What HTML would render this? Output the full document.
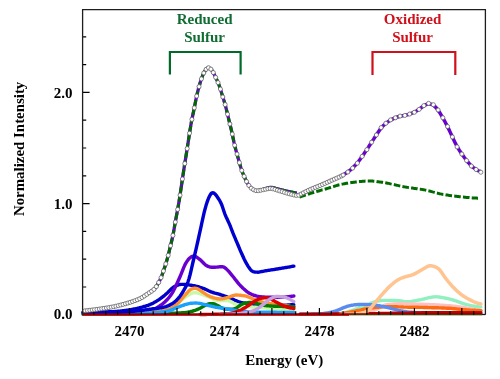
<!DOCTYPE html>
<html><head><meta charset="utf-8"><style>
html,body{margin:0;padding:0;background:#fff;}
body{width:500px;height:379px;overflow:hidden;}
svg{display:block;will-change:transform;}
text{font-family:"Liberation Serif",serif;font-weight:bold;}
</style></head><body>
<svg width="500" height="379" viewBox="0 0 500 379">
<rect width="500" height="379" fill="#fff"/>
<g fill="none" stroke-linecap="round" stroke-linejoin="round">
<path d="M320.0,314.2 L321.0,314.2 L322.0,314.2 L323.0,314.2 L324.0,314.2 L325.0,314.2 L326.0,314.2 L327.0,314.1 L328.0,314.1 L329.0,314.1 L330.0,314.1 L331.0,314.1 L332.0,314.1 L333.0,314.0 L334.0,314.0 L335.0,314.0 L336.0,313.9 L337.0,313.9 L338.0,313.9 L339.0,313.8 L340.0,313.8 L341.0,313.7 L342.0,313.5 L343.0,313.3 L344.0,313.1 L345.0,312.8 L346.0,312.5 L347.0,312.2 L348.0,311.9 L349.0,311.5 L350.0,311.2 L351.0,310.8 L352.0,310.5 L353.0,310.2 L354.0,309.8 L355.0,309.4 L356.0,309.0 L357.0,308.7 L358.0,308.3 L359.0,307.9 L360.0,307.5 L361.0,307.1 L362.0,306.8 L363.0,306.4 L364.0,306.0 L365.0,305.6 L366.0,305.3 L367.0,304.9 L368.0,304.5 L369.0,304.1 L370.0,303.6 L371.0,303.2 L372.0,302.8 L373.0,302.5 L374.0,302.1 L375.0,301.8 L376.0,301.5 L377.0,301.2 L378.0,301.0 L379.0,300.8 L380.0,300.6 L381.0,300.5 L382.0,300.4 L383.0,300.4 L384.0,300.4 L385.0,300.4 L386.0,300.4 L387.0,300.4 L388.0,300.4 L389.0,300.4 L390.0,300.4 L391.0,300.4 L392.0,300.4 L393.0,300.5 L394.0,300.5 L395.0,300.5 L396.0,300.6 L397.0,300.7 L398.0,300.7 L399.0,300.8 L400.0,300.9 L401.0,301.0 L402.0,301.2 L403.0,301.3 L404.0,301.5 L405.0,301.6 L406.0,301.7 L407.0,301.7 L408.0,301.7 L409.0,301.7 L410.0,301.6 L411.0,301.5 L412.0,301.3 L413.0,301.2 L414.0,301.0 L415.0,300.8 L416.0,300.6 L417.0,300.4 L418.0,300.2 L419.0,300.0 L420.0,299.9 L421.0,299.7 L422.0,299.4 L423.0,299.2 L424.0,299.0 L425.0,298.7 L426.0,298.4 L427.0,298.2 L428.0,297.9 L429.0,297.7 L430.0,297.5 L431.0,297.3 L432.0,297.1 L433.0,297.0 L434.0,296.9 L435.0,296.9 L436.0,296.8 L437.0,296.9 L438.0,296.9 L439.0,297.0 L440.0,297.2 L441.0,297.3 L442.0,297.5 L443.0,297.6 L444.0,297.8 L445.0,298.0 L446.0,298.3 L447.0,298.5 L448.0,298.7 L449.0,298.9 L450.0,299.2 L451.0,299.4 L452.0,299.7 L453.0,300.0 L454.0,300.3 L455.0,300.6 L456.0,300.9 L457.0,301.3 L458.0,301.7 L459.0,302.1 L460.0,302.4 L461.0,302.8 L462.0,303.2 L463.0,303.5 L464.0,303.8 L465.0,304.1 L466.0,304.4 L467.0,304.7 L468.0,304.9 L469.0,305.1 L470.0,305.4 L471.0,305.6 L472.0,305.8 L473.0,306.0 L474.0,306.2 L475.0,306.3 L476.0,306.5 L477.0,306.7 L478.0,306.8 L479.0,306.9 L480.0,307.1 L480.9,307.1" stroke="#90f0c0" stroke-width="3.4" />
<path d="M350.0,314.2 L351.0,314.2 L352.0,314.2 L353.0,314.1 L354.0,314.1 L355.0,314.0 L356.0,314.0 L357.0,313.9 L358.0,313.8 L359.0,313.7 L360.0,313.6 L361.0,313.5 L362.0,313.4 L363.0,313.2 L364.0,313.1 L365.0,313.0 L366.0,312.8 L367.0,312.6 L368.0,312.3 L369.0,312.1 L370.0,311.8 L371.0,311.4 L372.0,311.1 L373.0,310.7 L374.0,310.4 L375.0,310.0 L376.0,309.5 L377.0,309.1 L378.0,308.6 L379.0,308.0 L380.0,307.5 L381.0,307.0 L382.0,306.4 L383.0,305.9 L384.0,305.5 L385.0,305.2 L386.0,304.9 L387.0,304.7 L388.0,304.5 L389.0,304.4 L390.0,304.3 L391.0,304.2 L392.0,304.1 L393.0,304.1 L394.0,304.0 L395.0,303.9 L396.0,303.9 L397.0,303.9 L398.0,303.8 L399.0,303.8 L400.0,303.8 L401.0,303.8 L402.0,303.8 L403.0,303.8 L404.0,303.8 L405.0,303.8 L406.0,303.9 L407.0,303.9 L408.0,303.9 L409.0,303.9 L410.0,303.9 L411.0,304.0 L412.0,304.0 L413.0,304.0 L414.0,304.0 L415.0,304.1 L416.0,304.1 L417.0,304.1 L418.0,304.2 L419.0,304.2 L420.0,304.2 L421.0,304.3 L422.0,304.3 L423.0,304.3 L424.0,304.4 L425.0,304.4 L426.0,304.4 L427.0,304.5 L428.0,304.5 L429.0,304.5 L430.0,304.6 L431.0,304.6 L432.0,304.7 L433.0,304.7 L434.0,304.8 L435.0,304.8 L436.0,304.9 L437.0,304.9 L438.0,305.0 L439.0,305.0 L440.0,305.1 L441.0,305.2 L442.0,305.2 L443.0,305.3 L444.0,305.4 L445.0,305.4 L446.0,305.5 L447.0,305.6 L448.0,305.7 L449.0,305.7 L450.0,305.8 L451.0,305.9 L452.0,306.0 L453.0,306.1 L454.0,306.2 L455.0,306.3 L456.0,306.4 L457.0,306.5 L458.0,306.7 L459.0,306.8 L460.0,306.9 L461.0,307.1 L462.0,307.2 L463.0,307.4 L464.0,307.6 L465.0,307.7 L466.0,307.9 L467.0,308.1 L468.0,308.3 L469.0,308.5 L470.0,308.7 L471.0,308.8 L472.0,309.0 L473.0,309.3 L474.0,309.5 L475.0,309.7 L476.0,309.9 L477.0,310.1 L478.0,310.3 L479.0,310.5 L480.0,310.7 L481.0,310.9" stroke="#ffc0c0" stroke-width="3.4" />
<path d="M320.0,314.2 L321.0,314.2 L322.0,314.2 L323.0,314.2 L324.0,314.2 L325.0,314.2 L326.0,314.1 L327.0,314.1 L328.0,314.1 L329.0,314.1 L330.0,314.0 L331.0,314.0 L332.0,314.0 L333.0,313.9 L334.0,313.9 L335.0,313.8 L336.0,313.8 L337.0,313.7 L338.0,313.7 L339.0,313.6 L340.0,313.6 L341.0,313.5 L342.0,313.4 L343.0,313.3 L344.0,313.2 L345.0,313.0 L346.0,312.8 L347.0,312.7 L348.0,312.5 L349.0,312.3 L350.0,312.1 L351.0,311.9 L352.0,311.7 L353.0,311.5 L354.0,311.3 L355.0,311.1 L356.0,310.9 L357.0,310.7 L358.0,310.5 L359.0,310.3 L360.0,310.1 L361.0,309.9 L362.0,309.6 L363.0,309.4 L364.0,309.2 L365.0,309.0 L366.0,308.9 L367.0,308.7 L368.0,308.5 L369.0,308.4 L370.0,308.2 L371.0,308.1 L372.0,307.9 L373.0,307.8 L374.0,307.7 L375.0,307.5 L376.0,307.4 L377.0,307.3 L378.0,307.2 L379.0,307.1 L380.0,307.0 L381.0,307.0 L382.0,306.9 L383.0,306.8 L384.0,306.8 L385.0,306.7 L386.0,306.7 L387.0,306.7 L388.0,306.6 L389.0,306.6 L390.0,306.6 L391.0,306.6 L392.0,306.6 L393.0,306.7 L394.0,306.7 L395.0,306.7 L396.0,306.8 L397.0,306.8 L398.0,306.9 L399.0,306.9 L400.0,306.9 L401.0,307.0 L402.0,307.0 L403.0,307.0 L404.0,307.1 L405.0,307.1 L406.0,307.1 L407.0,307.1 L408.0,307.2 L409.0,307.2 L410.0,307.2 L411.0,307.2 L412.0,307.2 L413.0,307.2 L414.0,307.3 L415.0,307.3 L416.0,307.3 L417.0,307.3 L418.0,307.3 L419.0,307.4 L420.0,307.4 L421.0,307.4 L422.0,307.4 L423.0,307.4 L424.0,307.5 L425.0,307.5 L426.0,307.5 L427.0,307.5 L428.0,307.6 L429.0,307.6 L430.0,307.6 L431.0,307.6 L432.0,307.7 L433.0,307.7 L434.0,307.7 L435.0,307.7 L436.0,307.8 L437.0,307.8 L438.0,307.8 L439.0,307.9 L440.0,307.9 L441.0,307.9 L442.0,308.0 L443.0,308.0 L444.0,308.0 L445.0,308.1 L446.0,308.1 L447.0,308.2 L448.0,308.2 L449.0,308.3 L450.0,308.3 L451.0,308.4 L452.0,308.5 L453.0,308.6 L454.0,308.7 L455.0,308.8 L456.0,308.9 L457.0,309.0 L458.0,309.1 L459.0,309.2 L460.0,309.3 L461.0,309.4 L462.0,309.5 L463.0,309.6 L464.0,309.6 L465.0,309.7 L466.0,309.8 L467.0,309.9 L468.0,309.9 L469.0,310.0 L470.0,310.1 L471.0,310.1 L472.0,310.2 L473.0,310.2 L474.0,310.3 L475.0,310.3 L476.0,310.4 L477.0,310.4 L478.0,310.5 L479.0,310.5 L480.0,310.6 L481.0,310.6" stroke="#ff6a10" stroke-width="3.4" />
<path d="M300.0,314.2 L301.0,314.2 L302.0,314.2 L303.0,314.2 L304.0,314.2 L305.0,314.2 L306.0,314.2 L307.0,314.1 L308.0,314.1 L309.0,314.1 L310.0,314.1 L311.0,314.1 L312.0,314.0 L313.0,314.0 L314.0,314.0 L315.0,314.0 L316.0,313.9 L317.0,313.9 L318.0,313.9 L319.0,313.8 L320.0,313.8 L321.0,313.7 L322.0,313.7 L323.0,313.6 L324.0,313.4 L325.0,313.3 L326.0,313.2 L327.0,313.0 L328.0,312.8 L329.0,312.6 L330.0,312.4 L331.0,312.2 L332.0,311.9 L333.0,311.7 L334.0,311.4 L335.0,311.2 L336.0,310.8 L337.0,310.5 L338.0,310.1 L339.0,309.7 L340.0,309.2 L341.0,308.8 L342.0,308.3 L343.0,307.9 L344.0,307.5 L345.0,307.2 L346.0,306.8 L347.0,306.4 L348.0,306.1 L349.0,305.8 L350.0,305.6 L351.0,305.4 L352.0,305.2 L353.0,305.1 L354.0,304.9 L355.0,304.8 L356.0,304.7 L357.0,304.6 L358.0,304.5 L359.0,304.5 L360.0,304.4 L361.0,304.4 L362.0,304.4 L363.0,304.4 L364.0,304.4 L365.0,304.5 L366.0,304.5 L367.0,304.5 L368.0,304.6 L369.0,304.6 L370.0,304.6 L371.0,304.7 L372.0,304.8 L373.0,304.8 L374.0,305.0 L375.0,305.1 L376.0,305.2 L377.0,305.4 L378.0,305.6 L379.0,305.7 L380.0,305.9 L381.0,306.1 L382.0,306.3 L383.0,306.5 L384.0,306.7 L385.0,306.9 L386.0,307.2 L387.0,307.4 L388.0,307.6 L389.0,307.9 L390.0,308.1 L391.0,308.4 L392.0,308.6 L393.0,308.9 L394.0,309.1 L395.0,309.4 L396.0,309.7 L397.0,309.9 L398.0,310.1 L399.0,310.4 L400.0,310.6 L401.0,310.8 L402.0,311.0 L403.0,311.2 L404.0,311.4 L405.0,311.5 L406.0,311.7 L407.0,311.9 L408.0,312.0 L409.0,312.1 L410.0,312.2 L411.0,312.3 L412.0,312.3 L413.0,312.4 L414.0,312.5 L415.0,312.5 L416.0,312.6 L417.0,312.6 L418.0,312.7 L419.0,312.7 L420.0,312.8 L421.0,312.8 L422.0,312.9 L423.0,312.9 L424.0,313.0 L425.0,313.0 L426.0,313.0 L427.0,313.1 L428.0,313.1 L429.0,313.1 L430.0,313.2 L431.0,313.2 L432.0,313.2 L433.0,313.3 L434.0,313.3 L435.0,313.3 L436.0,313.3 L437.0,313.3 L438.0,313.4 L439.0,313.4 L440.0,313.4 L441.0,313.4 L442.0,313.4 L443.0,313.4 L444.0,313.5 L445.0,313.5 L446.0,313.5 L447.0,313.5 L448.0,313.5 L449.0,313.5 L450.0,313.6 L451.0,313.6 L452.0,313.6 L453.0,313.6 L454.0,313.6 L455.0,313.6 L456.0,313.6 L457.0,313.6 L458.0,313.7 L459.0,313.7 L460.0,313.7 L461.0,313.7 L462.0,313.7 L463.0,313.7 L464.0,313.7 L465.0,313.7 L466.0,313.7 L467.0,313.7 L468.0,313.7 L469.0,313.8 L470.0,313.8 L471.0,313.8 L472.0,313.8 L473.0,313.8 L474.0,313.8 L475.0,313.8 L476.0,313.8 L477.0,313.8 L478.0,313.8 L479.0,313.8 L480.0,313.8 L481.0,313.8" stroke="#5a8cf0" stroke-width="3.4" />
<path d="M380.0,314.0 L381.0,313.9 L382.0,313.9 L383.0,313.8 L384.0,313.8 L385.0,313.7 L386.0,313.6 L387.0,313.6 L388.0,313.5 L389.0,313.5 L390.0,313.4 L391.0,313.4 L392.0,313.3 L393.0,313.3 L394.0,313.2 L395.0,313.2 L396.0,313.2 L397.0,313.1 L398.0,313.1 L399.0,313.1 L400.0,313.0 L401.0,313.0 L402.0,313.0 L403.0,313.0 L404.0,313.0 L405.0,312.9 L406.0,312.9 L407.0,312.9 L408.0,312.9 L409.0,312.9 L410.0,312.9 L411.0,312.9 L412.0,312.8 L413.0,312.8 L414.0,312.8 L415.0,312.8 L416.0,312.8 L417.0,312.8 L418.0,312.8 L419.0,312.8 L420.0,312.8 L421.0,312.8 L422.0,312.8 L423.0,312.7 L424.0,312.7 L425.0,312.7 L426.0,312.7 L427.0,312.7 L428.0,312.7 L429.0,312.7 L430.0,312.7 L431.0,312.7 L432.0,312.7 L433.0,312.7 L434.0,312.7 L435.0,312.6 L436.0,312.6 L437.0,312.6 L438.0,312.6 L439.0,312.6 L440.0,312.6 L441.0,312.6 L442.0,312.6 L443.0,312.6 L444.0,312.6 L445.0,312.5 L446.0,312.5 L447.0,312.5 L448.0,312.5 L449.0,312.5 L450.0,312.5 L451.0,312.5 L452.0,312.5 L453.0,312.5 L454.0,312.5 L455.0,312.5 L456.0,312.4 L457.0,312.4 L458.0,312.4 L459.0,312.4 L460.0,312.4 L461.0,312.4 L462.0,312.4 L463.0,312.4 L464.0,312.4 L465.0,312.4 L466.0,312.3 L467.0,312.3 L468.0,312.3 L469.0,312.3 L470.0,312.3 L471.0,312.3 L472.0,312.3 L473.0,312.3 L474.0,312.3 L475.0,312.3 L476.0,312.2 L477.0,312.2 L478.0,312.2 L479.0,312.2 L480.0,312.2 L481.0,312.2" stroke="#5050b0" stroke-width="2.4" />
<path d="M300.0,314.0 L301.0,314.0 L302.0,314.0 L303.0,314.0 L304.0,314.0 L305.0,314.0 L306.0,314.0 L307.0,314.0 L308.0,314.0 L309.0,314.0 L310.0,314.0 L311.0,314.0 L312.0,314.0 L313.0,314.0 L314.0,314.0 L315.0,313.9 L316.0,313.9 L317.0,313.9 L318.0,313.9 L319.0,313.9 L320.0,313.9 L321.0,313.9 L322.0,313.9 L323.0,313.9 L324.0,313.9 L325.0,313.9 L326.0,313.9 L327.0,313.9 L328.0,313.9 L329.0,313.9 L330.0,313.9 L331.0,313.9 L332.0,313.8 L333.0,313.8 L334.0,313.8 L335.0,313.8 L336.0,313.8 L337.0,313.8 L338.0,313.8 L339.0,313.8 L340.0,313.8 L341.0,313.8 L342.0,313.8 L343.0,313.8 L344.0,313.7 L345.0,313.7 L346.0,313.7 L347.0,313.7 L348.0,313.7 L349.0,313.7 L350.0,313.7 L351.0,313.7 L352.0,313.7 L353.0,313.7 L354.0,313.7 L355.0,313.6 L356.0,313.6 L357.0,313.6 L358.0,313.6 L359.0,313.6 L360.0,313.6 L361.0,313.6 L362.0,313.6 L363.0,313.6 L364.0,313.6 L365.0,313.5 L366.0,313.5 L367.0,313.5 L368.0,313.5 L369.0,313.5 L370.0,313.5 L371.0,313.5 L372.0,313.4 L373.0,313.4 L374.0,313.4 L375.0,313.4 L376.0,313.4 L377.0,313.4 L378.0,313.4 L379.0,313.3 L380.0,313.3 L381.0,313.3 L382.0,313.3 L383.0,313.3 L384.0,313.3 L385.0,313.2 L386.0,313.2 L387.0,313.2 L388.0,313.2 L389.0,313.2 L390.0,313.2 L391.0,313.1 L392.0,313.1 L393.0,313.1 L394.0,313.1 L395.0,313.1 L396.0,313.1 L397.0,313.0 L398.0,313.0 L399.0,313.0 L400.0,313.0 L401.0,313.0 L402.0,313.0 L403.0,313.0 L404.0,312.9 L405.0,312.9 L406.0,312.9 L407.0,312.9 L408.0,312.9 L409.0,312.9 L410.0,312.8 L411.0,312.8 L412.0,312.8 L413.0,312.8 L414.0,312.8 L415.0,312.7 L416.0,312.7 L417.0,312.7 L418.0,312.7 L419.0,312.7 L420.0,312.7 L421.0,312.7 L422.0,312.6 L423.0,312.6 L424.0,312.6 L425.0,312.6 L426.0,312.6 L427.0,312.6 L428.0,312.6 L429.0,312.6 L430.0,312.6 L431.0,312.6 L432.0,312.6 L433.0,312.6 L434.0,312.6 L435.0,312.6 L436.0,312.6 L437.0,312.6 L438.0,312.6 L439.0,312.6 L440.0,312.6 L441.0,312.6 L442.0,312.6 L443.0,312.6 L444.0,312.6 L445.0,312.6 L446.0,312.6 L447.0,312.6 L448.0,312.6 L449.0,312.6 L450.0,312.6 L451.0,312.6 L452.0,312.6 L453.0,312.6 L454.0,312.6 L455.0,312.6 L456.0,312.6 L457.0,312.6 L458.0,312.6 L459.0,312.6 L460.0,312.6 L461.0,312.6 L462.0,312.6 L463.0,312.7 L464.0,312.7 L465.0,312.7 L466.0,312.7 L467.0,312.7 L468.0,312.7 L469.0,312.7 L470.0,312.7 L471.0,312.7 L472.0,312.7 L473.0,312.7 L474.0,312.7 L475.0,312.7 L476.0,312.7 L477.0,312.8 L478.0,312.8 L479.0,312.8 L480.0,312.8 L481.0,312.8" stroke="#c00000" stroke-width="3.0" />
<path d="M340.0,314.2 L341.0,314.2 L342.0,314.2 L343.0,314.2 L344.0,314.2 L345.0,314.2 L346.0,314.1 L347.0,314.1 L348.0,314.1 L349.0,314.1 L350.0,314.1 L351.0,314.0 L352.0,314.0 L353.0,314.0 L354.0,313.9 L355.0,313.9 L356.0,313.8 L357.0,313.8 L358.0,313.7 L359.0,313.6 L360.0,313.6 L361.0,313.4 L362.0,313.2 L363.0,313.0 L364.0,312.7 L365.0,312.3 L366.0,311.8 L367.0,311.3 L368.0,310.7 L369.0,309.8 L370.0,308.9 L371.0,307.7 L372.0,306.5 L373.0,305.3 L374.0,304.0 L375.0,302.8 L376.0,301.6 L377.0,300.4 L378.0,299.3 L379.0,298.1 L380.0,296.9 L381.0,295.7 L382.0,294.6 L383.0,293.5 L384.0,292.3 L385.0,291.2 L386.0,290.2 L387.0,289.1 L388.0,288.1 L389.0,287.1 L390.0,286.1 L391.0,285.2 L392.0,284.3 L393.0,283.5 L394.0,282.6 L395.0,281.9 L396.0,281.1 L397.0,280.4 L398.0,279.8 L399.0,279.2 L400.0,278.7 L401.0,278.2 L402.0,277.9 L403.0,277.5 L404.0,277.2 L405.0,276.9 L406.0,276.6 L407.0,276.3 L408.0,276.1 L409.0,275.8 L410.0,275.6 L411.0,275.3 L412.0,274.9 L413.0,274.6 L414.0,274.1 L415.0,273.6 L416.0,273.1 L417.0,272.6 L418.0,272.0 L419.0,271.4 L420.0,270.8 L421.0,270.3 L422.0,269.7 L423.0,269.1 L424.0,268.5 L425.0,267.9 L426.0,267.3 L427.0,266.7 L428.0,266.3 L429.0,266.0 L430.0,265.8 L431.0,265.8 L432.0,265.9 L433.0,266.1 L434.0,266.4 L435.0,266.8 L436.0,267.2 L437.0,267.8 L438.0,268.4 L439.0,269.2 L440.0,270.3 L441.0,271.6 L442.0,273.0 L443.0,274.5 L444.0,276.0 L445.0,277.4 L446.0,278.8 L447.0,280.0 L448.0,281.3 L449.0,282.5 L450.0,283.7 L451.0,284.8 L452.0,286.0 L453.0,287.1 L454.0,288.1 L455.0,289.1 L456.0,290.1 L457.0,291.0 L458.0,291.9 L459.0,292.7 L460.0,293.5 L461.0,294.3 L462.0,295.1 L463.0,295.8 L464.0,296.5 L465.0,297.1 L466.0,297.7 L467.0,298.3 L468.0,298.8 L469.0,299.4 L470.0,299.9 L471.0,300.4 L472.0,300.9 L473.0,301.3 L474.0,301.8 L475.0,302.2 L476.0,302.6 L477.0,302.9 L478.0,303.3 L479.0,303.6 L480.0,303.8 L480.9,304.0" stroke="#ffc490" stroke-width="3.5" />
<path d="M83.0,312.2 L84.0,312.2 L85.0,312.2 L86.0,312.2 L87.0,312.2 L88.0,312.2 L89.0,312.2 L90.0,312.2 L91.0,312.2 L92.0,312.1 L93.0,312.1 L94.0,312.1 L95.0,312.1 L96.0,312.1 L97.0,312.1 L98.0,312.1 L99.0,312.0 L100.0,312.0 L101.0,312.0 L102.0,312.0 L103.0,312.0 L104.0,311.9 L105.0,311.9 L106.0,311.9 L107.0,311.9 L108.0,311.9 L109.0,311.8 L110.0,311.8 L111.0,311.8 L112.0,311.7 L113.0,311.7 L114.0,311.6 L115.0,311.5 L116.0,311.5 L117.0,311.4 L118.0,311.3 L119.0,311.2 L120.0,311.1 L121.0,311.0 L122.0,310.9 L123.0,310.7 L124.0,310.6 L125.0,310.5 L126.0,310.4 L127.0,310.2 L128.0,310.1 L129.0,309.9 L130.0,309.8 L131.0,309.6 L132.0,309.4 L133.0,309.3 L134.0,309.0 L135.0,308.8 L136.0,308.6 L137.0,308.4 L138.0,308.1 L139.0,307.9 L140.0,307.6 L141.0,307.3 L142.0,307.1 L143.0,306.8 L144.0,306.5 L145.0,306.3 L146.0,306.0 L147.0,305.6 L148.0,305.3 L149.0,304.9 L150.0,304.6 L151.0,304.1 L152.0,303.7 L153.0,303.2 L154.0,302.6 L155.0,302.1 L156.0,301.5 L157.0,300.9 L158.0,300.2 L159.0,299.6 L160.0,298.9 L161.0,298.2 L162.0,297.4 L163.0,296.6 L164.0,295.8 L165.0,295.0 L166.0,294.1 L167.0,293.2 L168.0,292.3 L169.0,291.3 L170.0,290.2 L171.0,289.2 L172.0,288.3 L173.0,287.5 L174.0,286.8 L175.0,286.3 L176.0,285.8 L177.0,285.4 L178.0,285.0 L179.0,284.7 L180.0,284.5 L181.0,284.4 L182.0,284.4 L183.0,284.4 L184.0,284.4 L185.0,284.5 L186.0,284.6 L187.0,284.7 L188.0,284.8 L189.0,284.9 L190.0,285.1 L191.0,285.2 L192.0,285.4 L193.0,285.6 L194.0,285.7 L195.0,285.9 L196.0,286.2 L197.0,286.4 L198.0,286.7 L199.0,287.0 L200.0,287.3 L201.0,287.6 L202.0,288.0 L203.0,288.3 L204.0,288.7 L205.0,289.1 L206.0,289.5 L207.0,290.0 L208.0,290.5 L209.0,291.0 L210.0,291.4 L211.0,291.8 L212.0,292.2 L213.0,292.5 L214.0,292.8 L215.0,293.1 L216.0,293.3 L217.0,293.6 L218.0,293.9 L219.0,294.2 L220.0,294.5 L221.0,294.8 L222.0,295.2 L223.0,295.5 L224.0,295.8 L225.0,296.2 L226.0,296.5 L227.0,296.9 L228.0,297.3 L229.0,297.6 L230.0,298.0 L231.0,298.4 L232.0,298.9 L233.0,299.3 L234.0,299.8 L235.0,300.3 L236.0,300.7 L237.0,301.1 L238.0,301.5 L239.0,301.9 L240.0,302.1 L241.0,302.4 L242.0,302.6 L243.0,302.8 L244.0,303.0 L245.0,303.2 L246.0,303.3 L247.0,303.5 L248.0,303.6 L249.0,303.7 L250.0,303.9 L251.0,304.0 L252.0,304.1 L253.0,304.2 L254.0,304.4 L255.0,304.5 L256.0,304.6 L257.0,304.7 L258.0,304.9 L259.0,305.0 L260.0,305.1 L261.0,305.2 L262.0,305.3 L263.0,305.4 L264.0,305.4 L265.0,305.5 L266.0,305.5 L267.0,305.6 L268.0,305.6 L269.0,305.6 L270.0,305.6 L271.0,305.6 L272.0,305.6 L273.0,305.5 L274.0,305.5 L275.0,305.5 L276.0,305.5 L277.0,305.5 L278.0,305.4 L279.0,305.4 L280.0,305.4 L281.0,305.3 L282.0,305.3 L283.0,305.3 L284.0,305.2 L285.0,305.2 L286.0,305.1 L287.0,305.1 L288.0,305.0 L289.0,305.0 L290.0,304.9 L291.0,304.8 L292.0,304.8 L293.0,304.7 L293.8,304.6" stroke="#0000c8" stroke-width="3.4" />
<path d="M83.0,313.4 L84.0,313.4 L85.0,313.4 L86.0,313.4 L87.0,313.4 L88.0,313.4 L89.0,313.4 L90.0,313.4 L91.0,313.4 L92.0,313.4 L93.0,313.4 L94.0,313.4 L95.0,313.4 L96.0,313.4 L97.0,313.3 L98.0,313.3 L99.0,313.3 L100.0,313.3 L101.0,313.3 L102.0,313.3 L103.0,313.3 L104.0,313.3 L105.0,313.3 L106.0,313.3 L107.0,313.2 L108.0,313.2 L109.0,313.2 L110.0,313.2 L111.0,313.2 L112.0,313.2 L113.0,313.2 L114.0,313.1 L115.0,313.1 L116.0,313.1 L117.0,313.1 L118.0,313.1 L119.0,313.0 L120.0,313.0 L121.0,313.0 L122.0,313.0 L123.0,313.0 L124.0,312.9 L125.0,312.9 L126.0,312.9 L127.0,312.9 L128.0,312.8 L129.0,312.8 L130.0,312.8 L131.0,312.8 L132.0,312.7 L133.0,312.7 L134.0,312.6 L135.0,312.6 L136.0,312.5 L137.0,312.4 L138.0,312.3 L139.0,312.2 L140.0,312.1 L141.0,312.0 L142.0,311.9 L143.0,311.7 L144.0,311.6 L145.0,311.5 L146.0,311.3 L147.0,311.1 L148.0,311.0 L149.0,310.8 L150.0,310.6 L151.0,310.3 L152.0,310.0 L153.0,309.6 L154.0,309.2 L155.0,308.7 L156.0,308.2 L157.0,307.6 L158.0,307.0 L159.0,306.4 L160.0,305.7 L161.0,305.0 L162.0,304.3 L163.0,303.5 L164.0,302.7 L165.0,301.8 L166.0,300.8 L167.0,299.8 L168.0,298.7 L169.0,297.5 L170.0,296.2 L171.0,294.9 L172.0,293.4 L173.0,291.7 L174.0,289.8 L175.0,287.8 L176.0,285.7 L177.0,283.5 L178.0,281.3 L179.0,279.0 L180.0,276.7 L181.0,274.3 L182.0,271.8 L183.0,269.3 L184.0,266.9 L185.0,264.7 L186.0,262.9 L187.0,261.3 L188.0,259.9 L189.0,258.7 L190.0,257.8 L191.0,257.0 L192.0,256.4 L193.0,256.2 L194.0,256.2 L195.0,256.4 L196.0,256.8 L197.0,257.4 L198.0,258.1 L199.0,258.8 L200.0,259.6 L201.0,260.5 L202.0,261.5 L203.0,262.5 L204.0,263.6 L205.0,264.5 L206.0,265.3 L207.0,265.9 L208.0,266.3 L209.0,266.7 L210.0,267.0 L211.0,267.2 L212.0,267.3 L213.0,267.3 L214.0,267.3 L215.0,267.2 L216.0,267.1 L217.0,267.1 L218.0,267.0 L219.0,266.9 L220.0,266.8 L221.0,266.7 L222.0,266.7 L223.0,266.9 L224.0,267.2 L225.0,267.8 L226.0,268.6 L227.0,269.6 L228.0,270.6 L229.0,271.7 L230.0,272.9 L231.0,274.1 L232.0,275.3 L233.0,276.5 L234.0,277.8 L235.0,279.1 L236.0,280.3 L237.0,281.6 L238.0,282.9 L239.0,284.1 L240.0,285.2 L241.0,286.3 L242.0,287.2 L243.0,288.2 L244.0,289.1 L245.0,289.9 L246.0,290.8 L247.0,291.6 L248.0,292.3 L249.0,293.0 L250.0,293.6 L251.0,294.1 L252.0,294.6 L253.0,294.9 L254.0,295.3 L255.0,295.5 L256.0,295.8 L257.0,296.1 L258.0,296.3 L259.0,296.5 L260.0,296.6 L261.0,296.8 L262.0,296.9 L263.0,297.0 L264.0,297.0 L265.0,297.1 L266.0,297.1 L267.0,297.1 L268.0,297.2 L269.0,297.2 L270.0,297.2 L271.0,297.3 L272.0,297.3 L273.0,297.3 L274.0,297.3 L275.0,297.4 L276.0,297.4 L277.0,297.4 L278.0,297.4 L279.0,297.4 L280.0,297.4 L281.0,297.4 L282.0,297.3 L283.0,297.3 L284.0,297.2 L285.0,297.1 L286.0,297.0 L287.0,296.9 L288.0,296.8 L289.0,296.7 L290.0,296.5 L291.0,296.4 L292.0,296.2 L293.0,296.1 L293.9,296.0" stroke="#6a00d0" stroke-width="3.4" />
<path d="M83.0,314.2 L84.0,314.2 L85.0,314.2 L86.0,314.2 L87.0,314.2 L88.0,314.2 L89.0,314.2 L90.0,314.2 L91.0,314.2 L92.0,314.2 L93.0,314.2 L94.0,314.2 L95.0,314.2 L96.0,314.2 L97.0,314.2 L98.0,314.2 L99.0,314.1 L100.0,314.1 L101.0,314.1 L102.0,314.1 L103.0,314.1 L104.0,314.1 L105.0,314.1 L106.0,314.1 L107.0,314.1 L108.0,314.1 L109.0,314.1 L110.0,314.1 L111.0,314.0 L112.0,314.0 L113.0,314.0 L114.0,314.0 L115.0,314.0 L116.0,314.0 L117.0,314.0 L118.0,313.9 L119.0,313.9 L120.0,313.9 L121.0,313.9 L122.0,313.9 L123.0,313.9 L124.0,313.8 L125.0,313.8 L126.0,313.8 L127.0,313.8 L128.0,313.8 L129.0,313.8 L130.0,313.7 L131.0,313.7 L132.0,313.7 L133.0,313.7 L134.0,313.6 L135.0,313.6 L136.0,313.6 L137.0,313.6 L138.0,313.5 L139.0,313.5 L140.0,313.5 L141.0,313.5 L142.0,313.4 L143.0,313.4 L144.0,313.4 L145.0,313.4 L146.0,313.3 L147.0,313.3 L148.0,313.3 L149.0,313.2 L150.0,313.2 L151.0,313.1 L152.0,313.1 L153.0,313.0 L154.0,313.0 L155.0,312.9 L156.0,312.8 L157.0,312.6 L158.0,312.5 L159.0,312.4 L160.0,312.2 L161.0,312.1 L162.0,311.9 L163.0,311.7 L164.0,311.5 L165.0,311.3 L166.0,311.0 L167.0,310.8 L168.0,310.5 L169.0,310.2 L170.0,309.9 L171.0,309.5 L172.0,308.9 L173.0,308.2 L174.0,307.4 L175.0,306.5 L176.0,305.5 L177.0,304.5 L178.0,303.5 L179.0,302.5 L180.0,301.5 L181.0,300.6 L182.0,299.7 L183.0,298.8 L184.0,298.0 L185.0,297.3 L186.0,296.6 L187.0,295.9 L188.0,295.3 L189.0,294.7 L190.0,294.1 L191.0,293.6 L192.0,293.2 L193.0,292.9 L194.0,292.8 L195.0,292.7 L196.0,292.8 L197.0,292.9 L198.0,293.1 L199.0,293.4 L200.0,293.7 L201.0,294.0 L202.0,294.3 L203.0,294.7 L204.0,295.1 L205.0,295.4 L206.0,295.8 L207.0,296.2 L208.0,296.6 L209.0,297.0 L210.0,297.5 L211.0,297.9 L212.0,298.4 L213.0,298.9 L214.0,299.3 L215.0,299.7 L216.0,300.0 L217.0,300.2 L218.0,300.4 L219.0,300.5 L220.0,300.5 L221.0,300.5 L222.0,300.5 L223.0,300.5 L224.0,300.5 L225.0,300.5 L226.0,300.5 L227.0,300.5 L228.0,300.6 L229.0,300.9 L230.0,301.2 L231.0,301.7 L232.0,302.3 L233.0,302.9 L234.0,303.4 L235.0,303.9 L236.0,304.3 L237.0,304.7 L238.0,305.0 L239.0,305.3 L240.0,305.6 L241.0,305.8 L242.0,306.0 L243.0,306.1 L244.0,306.3 L245.0,306.4 L246.0,306.5 L247.0,306.6 L248.0,306.7 L249.0,306.8 L250.0,306.8 L251.0,306.9 L252.0,307.0 L253.0,307.1 L254.0,307.1 L255.0,307.2 L256.0,307.3 L257.0,307.3 L258.0,307.4 L259.0,307.4 L260.0,307.5 L261.0,307.6 L262.0,307.7 L263.0,307.8 L264.0,307.9 L265.0,308.0 L266.0,308.1 L267.0,308.2 L268.0,308.3 L269.0,308.5 L270.0,308.6 L271.0,308.7 L272.0,308.8 L273.0,308.9 L274.0,309.0 L275.0,309.0 L276.0,309.1 L277.0,309.1 L278.0,309.2 L279.0,309.2 L280.0,309.2 L281.0,309.2 L282.0,309.2 L283.0,309.2 L284.0,309.2 L285.0,309.2 L286.0,309.2 L287.0,309.2 L288.0,309.2 L289.0,309.2 L290.0,309.2 L291.0,309.2 L292.0,309.2 L293.0,309.2 L293.9,309.2" stroke="#c8f8a8" stroke-width="3.4" />
<path d="M83.0,313.6 L84.0,313.6 L85.0,313.6 L86.0,313.6 L87.0,313.6 L88.0,313.6 L89.0,313.6 L90.0,313.6 L91.0,313.6 L92.0,313.6 L93.0,313.6 L94.0,313.6 L95.0,313.6 L96.0,313.6 L97.0,313.6 L98.0,313.6 L99.0,313.6 L100.0,313.6 L101.0,313.6 L102.0,313.6 L103.0,313.6 L104.0,313.6 L105.0,313.5 L106.0,313.5 L107.0,313.5 L108.0,313.5 L109.0,313.5 L110.0,313.5 L111.0,313.5 L112.0,313.5 L113.0,313.5 L114.0,313.5 L115.0,313.5 L116.0,313.5 L117.0,313.5 L118.0,313.5 L119.0,313.5 L120.0,313.4 L121.0,313.4 L122.0,313.4 L123.0,313.4 L124.0,313.4 L125.0,313.4 L126.0,313.4 L127.0,313.4 L128.0,313.4 L129.0,313.3 L130.0,313.3 L131.0,313.3 L132.0,313.3 L133.0,313.3 L134.0,313.3 L135.0,313.3 L136.0,313.3 L137.0,313.2 L138.0,313.2 L139.0,313.2 L140.0,313.2 L141.0,313.2 L142.0,313.1 L143.0,313.1 L144.0,313.0 L145.0,312.9 L146.0,312.8 L147.0,312.7 L148.0,312.6 L149.0,312.5 L150.0,312.4 L151.0,312.3 L152.0,312.1 L153.0,312.0 L154.0,311.8 L155.0,311.7 L156.0,311.5 L157.0,311.4 L158.0,311.2 L159.0,311.1 L160.0,310.9 L161.0,310.8 L162.0,310.6 L163.0,310.5 L164.0,310.3 L165.0,310.1 L166.0,309.8 L167.0,309.6 L168.0,309.3 L169.0,308.9 L170.0,308.5 L171.0,308.0 L172.0,307.4 L173.0,306.8 L174.0,306.1 L175.0,305.4 L176.0,304.7 L177.0,303.9 L178.0,303.0 L179.0,302.0 L180.0,300.9 L181.0,299.8 L182.0,298.6 L183.0,297.4 L184.0,296.2 L185.0,295.1 L186.0,294.0 L187.0,292.9 L188.0,291.8 L189.0,290.8 L190.0,289.9 L191.0,289.3 L192.0,288.8 L193.0,288.5 L194.0,288.3 L195.0,288.3 L196.0,288.4 L197.0,288.7 L198.0,289.1 L199.0,289.6 L200.0,290.2 L201.0,290.9 L202.0,291.7 L203.0,292.4 L204.0,293.0 L205.0,293.7 L206.0,294.4 L207.0,295.0 L208.0,295.5 L209.0,296.0 L210.0,296.5 L211.0,296.9 L212.0,297.2 L213.0,297.6 L214.0,297.9 L215.0,298.2 L216.0,298.4 L217.0,298.7 L218.0,298.8 L219.0,298.9 L220.0,299.0 L221.0,298.9 L222.0,298.8 L223.0,298.7 L224.0,298.5 L225.0,298.2 L226.0,298.0 L227.0,297.7 L228.0,297.5 L229.0,297.2 L230.0,296.8 L231.0,296.4 L232.0,296.0 L233.0,295.7 L234.0,295.4 L235.0,295.1 L236.0,295.0 L237.0,295.0 L238.0,295.1 L239.0,295.1 L240.0,295.2 L241.0,295.3 L242.0,295.5 L243.0,295.6 L244.0,295.8 L245.0,295.9 L246.0,296.1 L247.0,296.4 L248.0,296.8 L249.0,297.2 L250.0,297.6 L251.0,298.0 L252.0,298.5 L253.0,298.9 L254.0,299.3 L255.0,299.7 L256.0,300.0 L257.0,300.4 L258.0,300.8 L259.0,301.1 L260.0,301.4 L261.0,301.7 L262.0,302.0 L263.0,302.3 L264.0,302.5 L265.0,302.7 L266.0,302.9 L267.0,303.1 L268.0,303.3 L269.0,303.4 L270.0,303.6 L271.0,303.7 L272.0,303.8 L273.0,304.0 L274.0,304.1 L275.0,304.2 L276.0,304.3 L277.0,304.4 L278.0,304.5 L279.0,304.6 L280.0,304.7 L281.0,304.9 L282.0,305.0 L283.0,305.2 L284.0,305.3 L285.0,305.5 L286.0,305.7 L287.0,305.8 L288.0,306.0 L289.0,306.2 L290.0,306.4 L291.0,306.6 L292.0,306.8 L293.0,307.0 L293.9,307.1" stroke="#ff9030" stroke-width="3.4" />
<path d="M83.0,314.2 L84.0,314.2 L85.0,314.2 L86.0,314.2 L87.0,314.2 L88.0,314.2 L89.0,314.2 L90.0,314.2 L91.0,314.2 L92.0,314.2 L93.0,314.2 L94.0,314.2 L95.0,314.2 L96.0,314.2 L97.0,314.2 L98.0,314.2 L99.0,314.2 L100.0,314.2 L101.0,314.2 L102.0,314.2 L103.0,314.2 L104.0,314.2 L105.0,314.2 L106.0,314.1 L107.0,314.1 L108.0,314.1 L109.0,314.1 L110.0,314.1 L111.0,314.1 L112.0,314.1 L113.0,314.1 L114.0,314.1 L115.0,314.1 L116.0,314.1 L117.0,314.1 L118.0,314.1 L119.0,314.1 L120.0,314.1 L121.0,314.1 L122.0,314.1 L123.0,314.0 L124.0,314.0 L125.0,314.0 L126.0,314.0 L127.0,314.0 L128.0,314.0 L129.0,314.0 L130.0,314.0 L131.0,314.0 L132.0,314.0 L133.0,314.0 L134.0,314.0 L135.0,314.0 L136.0,313.9 L137.0,313.9 L138.0,313.9 L139.0,313.9 L140.0,313.9 L141.0,313.9 L142.0,313.9 L143.0,313.9 L144.0,313.9 L145.0,313.9 L146.0,313.8 L147.0,313.8 L148.0,313.8 L149.0,313.8 L150.0,313.8 L151.0,313.8 L152.0,313.8 L153.0,313.8 L154.0,313.7 L155.0,313.7 L156.0,313.7 L157.0,313.7 L158.0,313.7 L159.0,313.7 L160.0,313.6 L161.0,313.6 L162.0,313.6 L163.0,313.6 L164.0,313.6 L165.0,313.5 L166.0,313.5 L167.0,313.5 L168.0,313.4 L169.0,313.4 L170.0,313.4 L171.0,313.3 L172.0,313.3 L173.0,313.3 L174.0,313.2 L175.0,313.2 L176.0,313.1 L177.0,313.1 L178.0,313.0 L179.0,313.0 L180.0,312.9 L181.0,312.9 L182.0,312.8 L183.0,312.7 L184.0,312.7 L185.0,312.6 L186.0,312.5 L187.0,312.4 L188.0,312.2 L189.0,312.0 L190.0,311.8 L191.0,311.5 L192.0,311.3 L193.0,311.0 L194.0,310.7 L195.0,310.4 L196.0,310.0 L197.0,309.6 L198.0,309.2 L199.0,308.7 L200.0,308.2 L201.0,307.7 L202.0,307.1 L203.0,306.5 L204.0,306.0 L205.0,305.5 L206.0,305.0 L207.0,304.5 L208.0,304.1 L209.0,303.8 L210.0,303.7 L211.0,303.6 L212.0,303.6 L213.0,303.7 L214.0,303.9 L215.0,304.2 L216.0,304.7 L217.0,305.2 L218.0,305.7 L219.0,306.3 L220.0,306.9 L221.0,307.4 L222.0,308.0 L223.0,308.4 L224.0,308.8 L225.0,309.0 L226.0,309.1 L227.0,309.1 L228.0,309.2 L229.0,309.2 L230.0,309.2 L231.0,309.3 L232.0,309.3 L233.0,309.2 L234.0,309.0 L235.0,308.6 L236.0,308.2 L237.0,307.6 L238.0,306.9 L239.0,306.2 L240.0,305.4 L241.0,304.7 L242.0,304.2 L243.0,303.7 L244.0,303.4 L245.0,303.2 L246.0,303.0 L247.0,302.8 L248.0,302.6 L249.0,302.5 L250.0,302.5 L251.0,302.4 L252.0,302.5 L253.0,302.7 L254.0,302.9 L255.0,303.2 L256.0,303.4 L257.0,303.7 L258.0,304.0 L259.0,304.2 L260.0,304.5 L261.0,304.8 L262.0,305.0 L263.0,305.2 L264.0,305.3 L265.0,305.5 L266.0,305.6 L267.0,305.7 L268.0,305.8 L269.0,305.9 L270.0,306.0 L271.0,306.0 L272.0,306.1 L273.0,306.1 L274.0,306.2 L275.0,306.2 L276.0,306.3 L277.0,306.3 L278.0,306.3 L279.0,306.4 L280.0,306.4 L281.0,306.4 L282.0,306.4 L283.0,306.5 L284.0,306.5 L285.0,306.5 L286.0,306.5 L287.0,306.5 L288.0,306.6 L289.0,306.6 L290.0,306.6 L291.0,306.6 L292.0,306.6 L293.0,306.6 L293.9,306.6" stroke="#007a00" stroke-width="3.4" />
<path d="M83.0,313.8 L84.0,313.8 L85.0,313.8 L86.0,313.8 L87.0,313.8 L88.0,313.8 L89.0,313.8 L90.0,313.8 L91.0,313.8 L92.0,313.8 L93.0,313.8 L94.0,313.8 L95.0,313.8 L96.0,313.8 L97.0,313.8 L98.0,313.8 L99.0,313.8 L100.0,313.8 L101.0,313.7 L102.0,313.7 L103.0,313.7 L104.0,313.7 L105.0,313.7 L106.0,313.7 L107.0,313.7 L108.0,313.7 L109.0,313.7 L110.0,313.7 L111.0,313.7 L112.0,313.7 L113.0,313.6 L114.0,313.6 L115.0,313.6 L116.0,313.6 L117.0,313.6 L118.0,313.6 L119.0,313.6 L120.0,313.6 L121.0,313.6 L122.0,313.5 L123.0,313.5 L124.0,313.5 L125.0,313.5 L126.0,313.5 L127.0,313.5 L128.0,313.5 L129.0,313.4 L130.0,313.4 L131.0,313.4 L132.0,313.4 L133.0,313.4 L134.0,313.3 L135.0,313.3 L136.0,313.3 L137.0,313.3 L138.0,313.3 L139.0,313.3 L140.0,313.2 L141.0,313.2 L142.0,313.2 L143.0,313.2 L144.0,313.1 L145.0,313.1 L146.0,313.1 L147.0,313.1 L148.0,313.0 L149.0,313.0 L150.0,313.0 L151.0,313.0 L152.0,312.9 L153.0,312.9 L154.0,312.8 L155.0,312.7 L156.0,312.7 L157.0,312.6 L158.0,312.5 L159.0,312.4 L160.0,312.3 L161.0,312.2 L162.0,312.0 L163.0,311.9 L164.0,311.7 L165.0,311.6 L166.0,311.4 L167.0,311.3 L168.0,311.0 L169.0,310.8 L170.0,310.5 L171.0,310.1 L172.0,309.7 L173.0,309.3 L174.0,308.8 L175.0,308.4 L176.0,307.9 L177.0,307.5 L178.0,307.1 L179.0,306.8 L180.0,306.4 L181.0,306.0 L182.0,305.7 L183.0,305.3 L184.0,305.0 L185.0,304.7 L186.0,304.4 L187.0,304.1 L188.0,303.8 L189.0,303.6 L190.0,303.4 L191.0,303.3 L192.0,303.2 L193.0,303.1 L194.0,303.1 L195.0,303.0 L196.0,303.0 L197.0,303.1 L198.0,303.1 L199.0,303.3 L200.0,303.4 L201.0,303.6 L202.0,303.9 L203.0,304.1 L204.0,304.3 L205.0,304.6 L206.0,304.8 L207.0,305.0 L208.0,305.3 L209.0,305.6 L210.0,305.8 L211.0,306.1 L212.0,306.4 L213.0,306.7 L214.0,306.9 L215.0,307.1 L216.0,307.3 L217.0,307.4 L218.0,307.6 L219.0,307.7 L220.0,307.8 L221.0,308.0 L222.0,308.1 L223.0,308.3 L224.0,308.4 L225.0,308.6 L226.0,308.8 L227.0,309.0 L228.0,309.2 L229.0,309.3 L230.0,309.5 L231.0,309.7 L232.0,309.8 L233.0,310.0 L234.0,310.2 L235.0,310.3 L236.0,310.5 L237.0,310.6 L238.0,310.7 L239.0,310.9 L240.0,311.0 L241.0,311.1 L242.0,311.2 L243.0,311.3 L244.0,311.4 L245.0,311.5 L246.0,311.5 L247.0,311.6 L248.0,311.7 L249.0,311.7 L250.0,311.8 L251.0,311.9 L252.0,311.9 L253.0,312.0 L254.0,312.0 L255.0,312.0 L256.0,312.1 L257.0,312.1 L258.0,312.2 L259.0,312.2 L260.0,312.2 L261.0,312.2 L262.0,312.2 L263.0,312.2 L264.0,312.2 L265.0,312.3 L266.0,312.3 L267.0,312.3 L268.0,312.3 L269.0,312.3 L270.0,312.3 L271.0,312.3 L272.0,312.3 L273.0,312.3 L274.0,312.3 L275.0,312.3 L276.0,312.3 L277.0,312.4 L278.0,312.4 L279.0,312.4 L280.0,312.4 L281.0,312.4 L282.0,312.4 L283.0,312.4 L284.0,312.4 L285.0,312.4 L286.0,312.4 L287.0,312.4 L288.0,312.4 L289.0,312.4 L290.0,312.4 L291.0,312.4 L292.0,312.4 L293.0,312.4 L293.9,312.4" stroke="#1aa0ff" stroke-width="3.4" />
<path d="M200.0,314.5 L201.0,314.5 L202.0,314.5 L203.0,314.5 L204.0,314.5 L205.0,314.5 L206.0,314.5 L207.0,314.4 L208.0,314.4 L209.0,314.4 L210.0,314.4 L211.0,314.4 L212.0,314.4 L213.0,314.3 L214.0,314.3 L215.0,314.3 L216.0,314.2 L217.0,314.2 L218.0,314.2 L219.0,314.1 L220.0,314.1 L221.0,314.0 L222.0,314.0 L223.0,313.9 L224.0,313.9 L225.0,313.8 L226.0,313.8 L227.0,313.7 L228.0,313.6 L229.0,313.6 L230.0,313.5 L231.0,313.3 L232.0,313.2 L233.0,312.9 L234.0,312.6 L235.0,312.3 L236.0,312.0 L237.0,311.6 L238.0,311.2 L239.0,310.8 L240.0,310.4 L241.0,309.9 L242.0,309.4 L243.0,308.8 L244.0,308.3 L245.0,307.7 L246.0,307.1 L247.0,306.4 L248.0,305.8 L249.0,305.1 L250.0,304.4 L251.0,303.7 L252.0,302.9 L253.0,302.3 L254.0,301.6 L255.0,301.0 L256.0,300.4 L257.0,299.9 L258.0,299.4 L259.0,299.0 L260.0,298.6 L261.0,298.4 L262.0,298.2 L263.0,298.0 L264.0,297.9 L265.0,297.8 L266.0,297.8 L267.0,297.9 L268.0,298.1 L269.0,298.4 L270.0,298.8 L271.0,299.2 L272.0,299.7 L273.0,300.2 L274.0,300.8 L275.0,301.4 L276.0,301.9 L277.0,302.4 L278.0,303.0 L279.0,303.5 L280.0,304.1 L281.0,304.6 L282.0,305.1 L283.0,305.6 L284.0,306.0 L285.0,306.3 L286.0,306.7 L287.0,307.0 L288.0,307.3 L289.0,307.5 L290.0,307.8 L291.0,308.0 L292.0,308.2 L293.0,308.4 L293.8,308.5" stroke="#dc0000" stroke-width="3.4" />
<path d="M220.0,314.5 L221.0,314.5 L222.0,314.5 L223.0,314.5 L224.0,314.4 L225.0,314.4 L226.0,314.4 L227.0,314.3 L228.0,314.3 L229.0,314.3 L230.0,314.2 L231.0,314.2 L232.0,314.1 L233.0,314.0 L234.0,314.0 L235.0,313.9 L236.0,313.8 L237.0,313.7 L238.0,313.7 L239.0,313.6 L240.0,313.5 L241.0,313.4 L242.0,313.3 L243.0,313.2 L244.0,313.0 L245.0,312.8 L246.0,312.7 L247.0,312.5 L248.0,312.3 L249.0,312.0 L250.0,311.8 L251.0,311.5 L252.0,311.2 L253.0,310.9 L254.0,310.5 L255.0,310.1 L256.0,309.6 L257.0,309.0 L258.0,308.4 L259.0,307.7 L260.0,307.0 L261.0,306.2 L262.0,305.5 L263.0,304.7 L264.0,303.9 L265.0,303.0 L266.0,302.0 L267.0,301.2 L268.0,300.4 L269.0,299.7 L270.0,299.1 L271.0,298.5 L272.0,298.0 L273.0,297.5 L274.0,297.1 L275.0,296.8 L276.0,296.5 L277.0,296.4 L278.0,296.4 L279.0,296.5 L280.0,296.6 L281.0,296.7 L282.0,296.8 L283.0,297.0 L284.0,297.2 L285.0,297.4 L286.0,297.6 L287.0,298.0 L288.0,298.4 L289.0,298.8 L290.0,299.4 L291.0,300.0 L292.0,300.6 L293.0,301.2 L293.8,301.6" stroke="#c8a0e0" stroke-width="3.4" />
<path d="M83.0,312.6 L84.0,312.6 L85.0,312.6 L86.0,312.6 L87.0,312.6 L88.0,312.6 L89.0,312.6 L90.0,312.6 L91.0,312.6 L92.0,312.6 L93.0,312.6 L94.0,312.6 L95.0,312.6 L96.0,312.5 L97.0,312.5 L98.0,312.5 L99.0,312.5 L100.0,312.5 L101.0,312.5 L102.0,312.5 L103.0,312.5 L104.0,312.5 L105.0,312.5 L106.0,312.4 L107.0,312.4 L108.0,312.4 L109.0,312.4 L110.0,312.4 L111.0,312.4 L112.0,312.3 L113.0,312.3 L114.0,312.3 L115.0,312.3 L116.0,312.3 L117.0,312.3 L118.0,312.2 L119.0,312.2 L120.0,312.2 L121.0,312.2 L122.0,312.1 L123.0,312.1 L124.0,312.0 L125.0,312.0 L126.0,311.9 L127.0,311.9 L128.0,311.8 L129.0,311.7 L130.0,311.6 L131.0,311.5 L132.0,311.4 L133.0,311.3 L134.0,311.2 L135.0,311.1 L136.0,311.0 L137.0,310.9 L138.0,310.8 L139.0,310.7 L140.0,310.6 L141.0,310.5 L142.0,310.4 L143.0,310.2 L144.0,310.1 L145.0,309.9 L146.0,309.8 L147.0,309.6 L148.0,309.5 L149.0,309.3 L150.0,309.2 L151.0,309.1 L152.0,308.9 L153.0,308.8 L154.0,308.7 L155.0,308.6 L156.0,308.5 L157.0,308.3 L158.0,308.2 L159.0,308.1 L160.0,307.9 L161.0,307.8 L162.0,307.6 L163.0,307.4 L164.0,307.2 L165.0,306.9 L166.0,306.6 L167.0,306.2 L168.0,305.8 L169.0,305.3 L170.0,304.9 L171.0,304.3 L172.0,303.8 L173.0,303.1 L174.0,302.4 L175.0,301.6 L176.0,300.7 L177.0,299.7 L178.0,298.6 L179.0,297.5 L180.0,296.2 L181.0,294.8 L182.0,293.3 L183.0,291.6 L184.0,289.9 L185.0,288.1 L186.0,286.3 L187.0,284.3 L188.0,281.8 L189.0,278.8 L190.0,275.0 L191.0,270.8 L192.0,266.4 L193.0,262.0 L194.0,257.8 L195.0,253.5 L196.0,249.3 L197.0,244.9 L198.0,240.5 L199.0,235.9 L200.0,231.4 L201.0,226.8 L202.0,222.2 L203.0,217.6 L204.0,213.2 L205.0,209.2 L206.0,205.6 L207.0,202.4 L208.0,199.6 L209.0,197.2 L210.0,195.2 L211.0,193.7 L212.0,192.9 L213.0,192.8 L214.0,193.2 L215.0,194.0 L216.0,195.1 L217.0,196.5 L218.0,198.0 L219.0,199.5 L220.0,201.2 L221.0,203.1 L222.0,205.5 L223.0,208.5 L224.0,211.5 L225.0,214.3 L226.0,216.7 L227.0,218.8 L228.0,220.9 L229.0,223.1 L230.0,225.4 L231.0,228.0 L232.0,230.6 L233.0,233.2 L234.0,235.6 L235.0,237.9 L236.0,240.3 L237.0,242.6 L238.0,245.0 L239.0,247.4 L240.0,249.8 L241.0,252.1 L242.0,254.3 L243.0,256.5 L244.0,258.7 L245.0,260.7 L246.0,262.7 L247.0,264.4 L248.0,266.1 L249.0,267.6 L250.0,269.0 L251.0,270.2 L252.0,271.1 L253.0,271.6 L254.0,271.8 L255.0,272.0 L256.0,272.1 L257.0,272.1 L258.0,272.2 L259.0,272.1 L260.0,271.9 L261.0,271.7 L262.0,271.5 L263.0,271.3 L264.0,271.1 L265.0,270.9 L266.0,270.7 L267.0,270.6 L268.0,270.4 L269.0,270.3 L270.0,270.1 L271.0,269.9 L272.0,269.8 L273.0,269.6 L274.0,269.5 L275.0,269.3 L276.0,269.2 L277.0,269.0 L278.0,268.8 L279.0,268.7 L280.0,268.5 L281.0,268.4 L282.0,268.2 L283.0,268.0 L284.0,267.9 L285.0,267.7 L286.0,267.5 L287.0,267.3 L288.0,267.1 L289.0,267.0 L290.0,266.8 L291.0,266.6 L292.0,266.4 L293.0,266.2 L293.9,266.1" stroke="#0000d0" stroke-width="3.4" />
</g>
<path d="M82.6,314.2 H482" stroke="#7a0808" stroke-width="1.9" fill="none"/><path d="M82.6,315.4 H349" stroke="#d01010" stroke-width="1" fill="none"/><path d="M349,315.4 H482" stroke="#9ad89a" stroke-width="1" fill="none"/><path d="M482,314.5 H485.4" stroke="#1e1e1e" stroke-width="1.3" fill="none"/>
<path d="M82.6,287.0 h3.6 M82.6,259.2 h3.6 M82.6,231.4 h3.6 M82.6,203.6 h7 M82.6,175.8 h3.6 M82.6,148.0 h3.6 M82.6,120.2 h3.6 M82.6,92.4 h7 M82.6,64.6 h3.6 M82.6,36.8 h3.6 M93.9,314.8 v-3.5 M105.7,314.8 v-3.5 M117.6,314.8 v-3.5 M129.5,314.8 v-6.8 M141.3,314.8 v-3.5 M153.2,314.8 v-3.5 M165.1,314.8 v-3.5 M177.0,314.8 v-6.8 M188.8,314.8 v-3.5 M200.7,314.8 v-3.5 M212.6,314.8 v-3.5 M224.4,314.8 v-6.8 M236.3,314.8 v-3.5 M248.2,314.8 v-3.5 M260.0,314.8 v-3.5 M271.9,314.8 v-6.8 M283.8,314.8 v-3.5 M295.7,314.8 v-3.5 M307.5,314.8 v-3.5 M319.4,314.8 v-6.8 M331.3,314.8 v-3.5 M343.1,314.8 v-3.5 M355.0,314.8 v-3.5 M366.9,314.8 v-6.8 M378.8,314.8 v-3.5 M390.6,314.8 v-3.5 M402.5,314.8 v-3.5 M414.4,314.8 v-6.8 M426.2,314.8 v-3.5 M438.1,314.8 v-3.5 M450.0,314.8 v-3.5 M461.8,314.8 v-6.8 M473.7,314.8 v-3.5" stroke="#000" stroke-width="1.2" fill="none"/>
<path d="M82.6,314.8 V9.6 H485.4 V314.8" fill="none" stroke="#1e1e1e" stroke-width="1.3"/>
<path d="M297.5,195.1 L298.5,194.9 L299.5,194.6 L300.5,194.2 L301.5,193.8 L302.5,193.3 L303.5,192.8 L304.5,192.3 L305.5,191.8 L306.5,191.3 L307.5,190.8 L308.5,190.3 L309.5,189.9 L310.5,189.4 L311.5,189.0 L312.5,188.6 L313.5,188.1 L314.5,187.7 L315.5,187.3 L316.5,186.9 L317.5,186.5 L318.5,186.1 L319.5,185.7 L320.5,185.3 L321.5,184.8 L322.5,184.4 L323.5,184.0 L324.5,183.5 L325.5,183.1 L326.5,182.7 L327.5,182.2 L328.5,181.8 L329.5,181.3 L330.5,180.9 L331.5,180.4 L332.5,180.0 L333.5,179.5 L334.5,179.1 L335.5,178.7 L336.5,178.2 L337.5,177.8 L338.5,177.3 L339.5,176.8 L340.5,176.3 L341.5,175.8 L342.5,175.3 L343.5,174.7 L344.5,174.1 L345.5,173.5 L346.5,172.8 L347.5,172.1 L348.5,171.4 L349.5,170.6 L350.5,169.8 L351.5,169.0 L352.5,168.1 L353.5,167.1 L354.5,166.1 L355.5,165.1 L356.5,163.9 L357.5,162.7 L358.5,161.5 L359.5,160.1 L360.5,158.8 L361.5,157.3 L362.5,155.9 L363.5,154.5 L364.5,153.0 L365.5,151.6 L366.5,150.1 L367.5,148.6 L368.5,147.1 L369.5,145.5 L370.5,144.0 L371.5,142.4 L372.5,140.9 L373.5,139.4 L374.5,137.8 L375.5,136.3 L376.5,134.7 L377.5,133.2 L378.5,131.7 L379.5,130.2 L380.5,128.9 L381.5,127.6 L382.5,126.5 L383.5,125.4 L384.5,124.5 L385.5,123.6 L386.5,122.8 L387.5,122.1 L388.5,121.4 L389.5,120.7 L390.5,120.1 L391.5,119.6 L392.5,119.1 L393.5,118.6 L394.5,118.2 L395.5,117.8 L396.5,117.4 L397.5,117.0 L398.5,116.7 L399.5,116.4 L400.5,116.2 L401.5,115.9 L402.5,115.8 L403.5,115.6 L404.5,115.4 L405.5,115.2 L406.5,114.9 L407.5,114.7 L408.5,114.4 L409.5,114.0 L410.5,113.7 L411.5,113.3 L412.5,112.9 L413.5,112.5 L414.5,112.1 L415.5,111.5 L416.5,111.0 L417.5,110.3 L418.5,109.7 L419.5,109.0 L420.5,108.2 L421.5,107.5 L422.5,106.8 L423.5,106.1 L424.5,105.4 L425.5,104.9 L426.5,104.4 L427.5,104.1 L428.5,103.9 L429.5,103.9 L430.5,104.0 L431.5,104.3 L432.5,104.7 L433.5,105.4 L434.5,106.2 L435.5,107.1 L436.5,108.2 L437.5,109.5 L438.5,110.9 L439.5,112.3 L440.5,113.9 L441.5,115.6 L442.5,117.3 L443.5,119.0 L444.5,120.8 L445.5,122.7 L446.5,124.6 L447.5,126.6 L448.5,128.6 L449.5,130.7 L450.5,132.9 L451.5,135.0 L452.5,137.2 L453.5,139.4 L454.5,141.5 L455.5,143.5 L456.5,145.4 L457.5,147.2 L458.5,148.9 L459.5,150.5 L460.5,152.0 L461.5,153.5 L462.5,154.9 L463.5,156.3 L464.5,157.7 L465.5,159.0 L466.5,160.3 L467.5,161.6 L468.5,162.7 L469.5,163.9 L470.5,164.9 L471.5,165.9 L472.5,166.8 L473.5,167.6 L474.5,168.3 L475.5,169.0 L476.5,169.7 L477.5,170.3 L478.5,170.8 L479.5,171.2 L480.5,171.6" stroke="#6a00d0" stroke-width="3.5" fill="none"/><path d="M83.0,311.0 L84.0,310.9 L85.0,310.8 L86.0,310.7 L87.0,310.6 L88.0,310.5 L89.0,310.3 L90.0,310.2 L91.0,310.1 L92.0,310.0 L93.0,309.9 L94.0,309.7 L95.0,309.6 L96.0,309.5 L97.0,309.3 L98.0,309.2 L99.0,309.1 L100.0,308.9 L101.0,308.8 L102.0,308.7 L103.0,308.5 L104.0,308.4 L105.0,308.2 L106.0,308.0 L107.0,307.9 L108.0,307.7 L109.0,307.5 L110.0,307.4 L111.0,307.2 L112.0,307.0 L113.0,306.8 L114.0,306.6 L115.0,306.4 L116.0,306.2 L117.0,305.9 L118.0,305.7 L119.0,305.4 L120.0,305.2 L121.0,304.9 L122.0,304.7 L123.0,304.4 L124.0,304.1 L125.0,303.8 L126.0,303.6 L127.0,303.3 L128.0,303.0 L129.0,302.7 L130.0,302.4 L131.0,302.0 L132.0,301.7 L133.0,301.4 L134.0,301.0 L135.0,300.6 L136.0,300.3 L137.0,299.9 L138.0,299.5 L139.0,299.0 L140.0,298.6 L141.0,298.1 L142.0,297.5 L143.0,296.9 L144.0,296.3 L145.0,295.6 L146.0,294.9 L147.0,294.2 L148.0,293.6 L149.0,292.9 L150.0,292.2 L151.0,291.6 L152.0,290.9 L153.0,290.2 L154.0,289.3 L155.0,288.3 L156.0,287.0 L157.0,285.5 L158.0,283.7 L159.0,281.9 L160.0,279.9 L161.0,277.8 L162.0,275.2 L163.0,272.3 L164.0,269.3 L165.0,266.4 L166.0,263.3 L167.0,259.8 L168.0,256.1 L169.0,252.1 L170.0,247.9 L171.0,243.8 L172.0,239.7 L173.0,235.0 L174.0,229.6 L175.0,223.8 L176.0,218.2 L177.0,213.0 L178.0,207.6 L179.0,201.8 L180.0,195.5 L181.0,188.8 L182.0,181.9 L183.0,175.1 L184.0,168.6 L185.0,162.2 L186.0,156.0 L187.0,149.7 L188.0,143.2 L189.0,136.7 L190.0,130.3 L191.0,124.3 L192.0,118.9 L193.0,114.1 L194.0,109.3 L195.0,104.3 L196.0,99.2 L197.0,94.6 L198.0,90.5 L199.0,86.8 L200.0,83.3 L201.0,80.1 L202.0,77.2 L203.0,74.6 L204.0,72.6 L205.0,70.9 L206.0,69.5 L207.0,68.4 L208.0,67.8 L209.0,67.8 L210.0,68.3 L211.0,69.2 L212.0,70.5 L213.0,72.1 L214.0,73.9 L215.0,76.0 L216.0,78.1 L217.0,80.2 L218.0,82.5 L219.0,85.0 L220.0,87.9 L221.0,91.0 L222.0,94.4 L223.0,97.6 L224.0,100.8 L225.0,104.0 L226.0,107.8 L227.0,112.0 L228.0,116.2 L229.0,120.4 L230.0,124.4 L231.0,128.5 L232.0,132.8 L233.0,137.6 L234.0,142.4 L235.0,146.7 L236.0,150.5 L237.0,154.0 L238.0,157.6 L239.0,161.2 L240.0,164.8 L241.0,168.1 L242.0,171.1 L243.0,173.7 L244.0,176.1 L245.0,178.3 L246.0,180.5 L247.0,182.4 L248.0,184.1 L249.0,185.6 L250.0,186.9 L251.0,188.0 L252.0,188.8 L253.0,189.4 L254.0,189.9 L255.0,190.4 L256.0,190.6 L257.0,190.6 L258.0,190.5 L259.0,190.3 L260.0,190.1 L261.0,189.8 L262.0,189.6 L263.0,189.3 L264.0,189.0 L265.0,188.7 L266.0,188.5 L267.0,188.2 L268.0,187.9 L269.0,187.7 L270.0,187.5 L271.0,187.5 L272.0,187.5 L273.0,187.7 L274.0,187.9 L275.0,188.2 L276.0,188.5 L277.0,188.7 L278.0,189.0 L279.0,189.2 L280.0,189.5 L281.0,189.7 L282.0,190.0 L283.0,190.2 L284.0,190.5 L285.0,190.7 L286.0,191.0 L287.0,191.2 L288.0,191.4 L289.0,191.6 L290.0,191.8 L291.0,192.0 L292.0,192.2 L293.0,192.4 L294.0,192.6 L295.0,192.8 L296.0,192.9 L297.0,192.9" stroke="#6a00d0" stroke-width="3.3" fill="none"/>
<path d="M83.0,311.0 L84.0,310.9 L85.0,310.8 L86.0,310.7 L87.0,310.6 L88.0,310.5 L89.0,310.3 L90.0,310.2 L91.0,310.1 L92.0,310.0 L93.0,309.9 L94.0,309.7 L95.0,309.6 L96.0,309.5 L97.0,309.3 L98.0,309.2 L99.0,309.1 L100.0,308.9 L101.0,308.8 L102.0,308.7 L103.0,308.5 L104.0,308.4 L105.0,308.2 L106.0,308.0 L107.0,307.9 L108.0,307.7 L109.0,307.5 L110.0,307.4 L111.0,307.2 L112.0,307.0 L113.0,306.8 L114.0,306.6 L115.0,306.4 L116.0,306.2 L117.0,305.9 L118.0,305.7 L119.0,305.4 L120.0,305.2 L121.0,304.9 L122.0,304.7 L123.0,304.4 L124.0,304.1 L125.0,303.8 L126.0,303.6 L127.0,303.3 L128.0,303.0 L129.0,302.7 L130.0,302.4 L131.0,302.0 L132.0,301.7 L133.0,301.4 L134.0,301.0 L135.0,300.6 L136.0,300.3 L137.0,299.9 L138.0,299.5 L139.0,299.0 L140.0,298.6 L141.0,298.1 L142.0,297.5 L143.0,296.9 L144.0,296.3 L145.0,295.6 L146.0,294.9 L147.0,294.2 L148.0,293.6 L149.0,292.9 L150.0,292.2 L151.0,291.6 L152.0,290.9 L153.0,290.2 L154.0,289.3 L155.0,288.3 L156.0,287.0 L157.0,285.5 L158.0,283.7 L159.0,281.9 L160.0,279.9 L161.0,277.8 L162.0,275.2 L163.0,272.3 L164.0,269.3 L165.0,266.4 L166.0,263.3 L167.0,259.8 L168.0,256.1 L169.0,252.1 L170.0,247.9 L171.0,243.8 L172.0,239.7 L173.0,235.0 L174.0,229.6 L175.0,223.8 L176.0,218.2 L177.0,213.0 L178.0,207.6 L179.0,201.8 L180.0,195.5 L181.0,188.8 L182.0,181.9 L183.0,175.1 L184.0,168.6 L185.0,162.2 L186.0,156.0 L187.0,149.7 L188.0,143.2 L189.0,136.7 L190.0,130.3 L191.0,124.3 L192.0,118.9 L193.0,114.1 L194.0,109.3 L195.0,104.3 L196.0,99.2 L197.0,94.6 L198.0,90.5 L199.0,86.8 L200.0,83.3 L201.0,80.1 L202.0,77.2 L203.0,74.6 L204.0,72.6 L205.0,70.9 L206.0,69.5 L207.0,68.4 L208.0,67.8 L209.0,67.8 L210.0,68.3 L211.0,69.2 L212.0,70.5 L213.0,72.1 L214.0,73.9 L215.0,76.0 L216.0,78.1 L217.0,80.2 L218.0,82.5 L219.0,85.0 L220.0,87.9 L221.0,91.0 L222.0,94.4 L223.0,97.6 L224.0,100.8 L225.0,104.0 L226.0,107.8 L227.0,112.0 L228.0,116.2 L229.0,120.4 L230.0,124.4 L231.0,128.5 L232.0,132.8 L233.0,137.6 L234.0,142.4 L235.0,146.7 L236.0,150.5 L237.0,154.0 L238.0,157.6 L239.0,161.2 L240.0,164.8 L241.0,168.1 L242.0,171.1 L243.0,173.7 L244.0,176.1 L245.0,178.3 L246.0,180.5 L247.0,182.4 L248.0,184.1 L249.0,185.6 L250.0,186.9 L251.0,188.0 L252.0,188.8 L253.0,189.4 L254.0,189.9 L255.0,190.4 L256.0,190.6 L257.0,190.6 L258.0,190.5 L259.0,190.3 L260.0,190.1 L261.0,189.8 L262.0,189.6 L263.0,189.3 L264.0,189.0 L265.0,188.7 L266.0,188.5 L267.0,188.2 L268.0,187.9 L269.0,187.7 L270.0,187.5 L271.0,187.5 L272.0,187.5 L273.0,187.7 L274.0,187.9 L275.0,188.2 L276.0,188.5 L277.0,188.7 L278.0,189.0 L279.0,189.2 L280.0,189.5 L281.0,189.7 L282.0,190.0 L283.0,190.2 L284.0,190.5 L285.0,190.7 L286.0,191.0 L287.0,191.2 L288.0,191.4 L289.0,191.6 L290.0,191.8 L291.0,192.0 L292.0,192.2 L293.0,192.4 L294.0,192.6 L295.0,192.8 L296.0,192.9 L297.0,192.9" stroke="#006a00" stroke-width="3" fill="none" stroke-dasharray="6.6 2.2"/>
<path d="M299.5,197.0 L300.5,196.7 L301.5,196.4 L302.5,196.1 L303.5,195.7 L304.5,195.4 L305.5,195.0 L306.5,194.7 L307.5,194.4 L308.5,194.0 L309.5,193.7 L310.5,193.4 L311.5,193.1 L312.5,192.8 L313.5,192.5 L314.5,192.2 L315.5,191.9 L316.5,191.6 L317.5,191.3 L318.5,191.0 L319.5,190.7 L320.5,190.4 L321.5,190.1 L322.5,189.8 L323.5,189.6 L324.5,189.3 L325.5,189.0 L326.5,188.7 L327.5,188.4 L328.5,188.1 L329.5,187.8 L330.5,187.5 L331.5,187.2 L332.5,186.9 L333.5,186.6 L334.5,186.2 L335.5,185.9 L336.5,185.6 L337.5,185.3 L338.5,185.0 L339.5,184.8 L340.5,184.5 L341.5,184.3 L342.5,184.1 L343.5,183.9 L344.5,183.7 L345.5,183.5 L346.5,183.3 L347.5,183.2 L348.5,183.0 L349.5,182.9 L350.5,182.7 L351.5,182.6 L352.5,182.5 L353.5,182.3 L354.5,182.2 L355.5,182.1 L356.5,182.0 L357.5,181.9 L358.5,181.7 L359.5,181.6 L360.5,181.5 L361.5,181.4 L362.5,181.3 L363.5,181.3 L364.5,181.2 L365.5,181.1 L366.5,181.1 L367.5,181.0 L368.5,181.0 L369.5,181.0 L370.5,181.0 L371.5,181.1 L372.5,181.1 L373.5,181.2 L374.5,181.3 L375.5,181.4 L376.5,181.5 L377.5,181.7 L378.5,181.8 L379.5,181.9 L380.5,182.1 L381.5,182.2 L382.5,182.3 L383.5,182.5 L384.5,182.6 L385.5,182.8 L386.5,183.0 L387.5,183.2 L388.5,183.4 L389.5,183.6 L390.5,183.9 L391.5,184.1 L392.5,184.3 L393.5,184.5 L394.5,184.7 L395.5,184.9 L396.5,185.2 L397.5,185.4 L398.5,185.6 L399.5,185.9 L400.5,186.1 L401.5,186.3 L402.5,186.5 L403.5,186.7 L404.5,186.9 L405.5,187.1 L406.5,187.2 L407.5,187.4 L408.5,187.6 L409.5,187.7 L410.5,187.9 L411.5,188.0 L412.5,188.1 L413.5,188.3 L414.5,188.4 L415.5,188.5 L416.5,188.7 L417.5,188.8 L418.5,189.0 L419.5,189.1 L420.5,189.2 L421.5,189.4 L422.5,189.6 L423.5,189.7 L424.5,189.9 L425.5,190.1 L426.5,190.3 L427.5,190.6 L428.5,190.8 L429.5,191.1 L430.5,191.3 L431.5,191.6 L432.5,191.9 L433.5,192.1 L434.5,192.4 L435.5,192.7 L436.5,193.0 L437.5,193.2 L438.5,193.4 L439.5,193.7 L440.5,193.9 L441.5,194.1 L442.5,194.3 L443.5,194.4 L444.5,194.6 L445.5,194.8 L446.5,195.0 L447.5,195.1 L448.5,195.3 L449.5,195.4 L450.5,195.6 L451.5,195.7 L452.5,195.8 L453.5,196.0 L454.5,196.1 L455.5,196.2 L456.5,196.3 L457.5,196.5 L458.5,196.6 L459.5,196.7 L460.5,196.8 L461.5,196.9 L462.5,197.0 L463.5,197.1 L464.5,197.2 L465.5,197.3 L466.5,197.4 L467.5,197.5 L468.5,197.5 L469.5,197.6 L470.5,197.7 L471.5,197.8 L472.5,197.9 L473.5,197.9 L474.5,198.0 L475.5,198.1 L476.5,198.1 L477.5,198.2 L478.0,198.2" stroke="#006a00" stroke-width="3" fill="none" stroke-dasharray="6.6 2.2"/>
<g fill="#fff" stroke="#606060" stroke-width="0.75"><circle cx="85.09" cy="310.78" r="2.05"/><circle cx="87.46" cy="310.51" r="2.05"/><circle cx="89.83" cy="310.24" r="2.05"/><circle cx="92.21" cy="309.95" r="2.05"/><circle cx="94.58" cy="309.65" r="2.05"/><circle cx="96.96" cy="309.35" r="2.05"/><circle cx="99.33" cy="309.03" r="2.05"/><circle cx="101.70" cy="308.69" r="2.05"/><circle cx="104.08" cy="308.34" r="2.05"/><circle cx="106.45" cy="307.97" r="2.05"/><circle cx="108.83" cy="307.57" r="2.05"/><circle cx="111.20" cy="307.14" r="2.05"/><circle cx="113.57" cy="306.68" r="2.05"/><circle cx="115.95" cy="306.17" r="2.05"/><circle cx="118.32" cy="305.61" r="2.05"/><circle cx="120.70" cy="305.01" r="2.05"/><circle cx="123.07" cy="304.38" r="2.05"/><circle cx="125.44" cy="303.72" r="2.05"/><circle cx="127.82" cy="303.03" r="2.05"/><circle cx="130.19" cy="302.30" r="2.05"/><circle cx="132.57" cy="301.50" r="2.05"/><circle cx="134.94" cy="300.66" r="2.05"/><circle cx="137.31" cy="299.75" r="2.05"/><circle cx="139.69" cy="298.72" r="2.05"/><circle cx="142.06" cy="297.48" r="2.05"/><circle cx="144.44" cy="295.97" r="2.05"/><circle cx="146.81" cy="294.38" r="2.05"/><circle cx="149.18" cy="292.76" r="2.05"/><circle cx="151.56" cy="291.22" r="2.05"/><circle cx="153.93" cy="289.39" r="2.05"/><circle cx="156.31" cy="286.57" r="2.05"/><circle cx="158.68" cy="282.47" r="2.05"/><circle cx="161.05" cy="277.63" r="2.05"/><circle cx="163.43" cy="271.02" r="2.05"/><circle cx="165.80" cy="263.89" r="2.05"/><circle cx="168.18" cy="255.36" r="2.05"/><circle cx="170.55" cy="245.68" r="2.05"/><circle cx="172.92" cy="235.38" r="2.05"/><circle cx="175.30" cy="222.08" r="2.05"/><circle cx="177.67" cy="209.43" r="2.05"/><circle cx="180.05" cy="195.16" r="2.05"/><circle cx="182.42" cy="179.02" r="2.05"/><circle cx="184.79" cy="163.54" r="2.05"/><circle cx="187.17" cy="148.59" r="2.05"/><circle cx="189.54" cy="133.19" r="2.05"/><circle cx="191.92" cy="119.38" r="2.05"/><circle cx="194.29" cy="107.84" r="2.05"/><circle cx="196.66" cy="96.08" r="2.05"/><circle cx="199.04" cy="86.62" r="2.05"/><circle cx="201.41" cy="78.88" r="2.05"/><circle cx="203.79" cy="72.99" r="2.05"/><circle cx="206.16" cy="69.31" r="2.05"/><circle cx="208.53" cy="67.72" r="2.05"/><circle cx="210.91" cy="69.14" r="2.05"/><circle cx="213.28" cy="72.55" r="2.05"/><circle cx="215.66" cy="77.37" r="2.05"/><circle cx="218.03" cy="82.58" r="2.05"/><circle cx="220.40" cy="89.10" r="2.05"/><circle cx="222.78" cy="96.93" r="2.05"/><circle cx="225.15" cy="104.59" r="2.05"/><circle cx="227.53" cy="114.24" r="2.05"/><circle cx="229.90" cy="124.03" r="2.05"/><circle cx="232.27" cy="134.08" r="2.05"/><circle cx="234.65" cy="145.27" r="2.05"/><circle cx="237.02" cy="154.11" r="2.05"/><circle cx="239.40" cy="162.65" r="2.05"/><circle cx="241.77" cy="170.44" r="2.05"/><circle cx="244.14" cy="176.42" r="2.05"/><circle cx="246.52" cy="181.48" r="2.05"/><circle cx="248.89" cy="185.45" r="2.05"/><circle cx="251.27" cy="188.21" r="2.05"/><circle cx="253.64" cy="189.77" r="2.05"/><circle cx="256.01" cy="190.63" r="2.05"/><circle cx="258.39" cy="190.67" r="2.05"/><circle cx="260.76" cy="190.27" r="2.05"/><circle cx="263.14" cy="189.74" r="2.05"/><circle cx="265.51" cy="189.25" r="2.05"/><circle cx="267.88" cy="188.74" r="2.05"/><circle cx="270.26" cy="188.46" r="2.05"/><circle cx="272.63" cy="188.73" r="2.05"/><circle cx="275.01" cy="189.44" r="2.05"/><circle cx="277.38" cy="190.21" r="2.05"/><circle cx="279.75" cy="190.93" r="2.05"/><circle cx="282.13" cy="191.66" r="2.05"/><circle cx="284.50" cy="192.42" r="2.05"/><circle cx="286.88" cy="193.15" r="2.05"/><circle cx="289.25" cy="193.81" r="2.05"/><circle cx="291.62" cy="194.42" r="2.05"/><circle cx="294.00" cy="195.02" r="2.05"/><circle cx="296.37" cy="195.45" r="2.05"/><circle cx="298.75" cy="195.21" r="2.05"/><circle cx="301.12" cy="194.04" r="2.05"/><circle cx="303.49" cy="192.81" r="2.05"/><circle cx="305.87" cy="191.60" r="2.05"/><circle cx="308.24" cy="190.43" r="2.05"/><circle cx="310.62" cy="189.33" r="2.05"/><circle cx="312.99" cy="188.33" r="2.05"/><circle cx="315.36" cy="187.37" r="2.05"/><circle cx="317.74" cy="186.43" r="2.05"/><circle cx="320.11" cy="185.45" r="2.05"/><circle cx="322.49" cy="184.43" r="2.05"/><circle cx="324.86" cy="183.39" r="2.05"/><circle cx="327.23" cy="182.33" r="2.05"/><circle cx="329.61" cy="181.27" r="2.05"/><circle cx="331.98" cy="180.20" r="2.05"/><circle cx="334.36" cy="179.16" r="2.05"/><circle cx="336.73" cy="178.14" r="2.05"/><circle cx="339.10" cy="177.08" r="2.05"/><circle cx="341.48" cy="175.93" r="2.05"/><circle cx="343.14" cy="175.04" r="2.05"/><circle cx="347.89" cy="171.98" r="2.05"/><circle cx="352.64" cy="168.10" r="2.05"/><circle cx="357.38" cy="163.17" r="2.05"/><circle cx="362.13" cy="156.39" r="2.05"/><circle cx="366.88" cy="149.64" r="2.05"/><circle cx="371.63" cy="142.20" r="2.05"/><circle cx="376.38" cy="134.97" r="2.05"/><circle cx="381.12" cy="127.60" r="2.05"/><circle cx="385.87" cy="123.21" r="2.05"/><circle cx="390.62" cy="119.86" r="2.05"/><circle cx="395.37" cy="117.79" r="2.05"/><circle cx="400.12" cy="116.07" r="2.05"/><circle cx="404.86" cy="115.44" r="2.05"/><circle cx="409.61" cy="114.03" r="2.05"/><circle cx="414.36" cy="112.30" r="2.05"/><circle cx="419.11" cy="109.37" r="2.05"/><circle cx="423.86" cy="105.63" r="2.05"/><circle cx="428.60" cy="103.35" r="2.05"/><circle cx="433.35" cy="104.71" r="2.05"/><circle cx="438.10" cy="109.96" r="2.05"/><circle cx="442.85" cy="117.77" r="2.05"/><circle cx="447.60" cy="126.54" r="2.05"/><circle cx="452.34" cy="136.94" r="2.05"/><circle cx="457.09" cy="146.90" r="2.05"/><circle cx="461.84" cy="154.05" r="2.05"/><circle cx="466.59" cy="160.56" r="2.05"/><circle cx="471.34" cy="166.05" r="2.05"/><circle cx="476.08" cy="169.49" r="2.05"/><circle cx="480.83" cy="172.21" r="2.05"/></g>
<path d="M169.9,74.6 V52 H240.6 V74.6" stroke="#006a2a" stroke-width="2.2" fill="none"/>
<path d="M372.5,75 V52 H455.3 V75" stroke="#d0101a" stroke-width="2.2" fill="none"/>
<g font-size="15">
<text x="204.6" y="24.0" text-anchor="middle" fill="#0f6d32">Reduced</text>
<text x="204.6" y="41.6" text-anchor="middle" fill="#0f6d32">Sulfur</text>
<text x="412.6" y="24.0" text-anchor="middle" fill="#d0101a">Oxidized</text>
<text x="412.6" y="41.6" text-anchor="middle" fill="#d0101a">Sulfur</text>
<text x="72.4" y="97.9" text-anchor="end">2.0</text>
<text x="72.4" y="209" text-anchor="end">1.0</text>
<text x="72.4" y="319.2" text-anchor="end">0.0</text>
<text x="129.5" y="335.8" text-anchor="middle">2470</text>
<text x="224.5" y="335.8" text-anchor="middle">2474</text>
<text x="319.5" y="335.8" text-anchor="middle">2478</text>
<text x="414.5" y="335.8" text-anchor="middle">2482</text>
<text x="284.3" y="364.8" text-anchor="middle">Energy (eV)</text>
<text transform="translate(23.5,148.9) rotate(-90)" text-anchor="middle" font-size="14.9">Normalized Intensity</text>
</g>
</svg>
</body></html>
